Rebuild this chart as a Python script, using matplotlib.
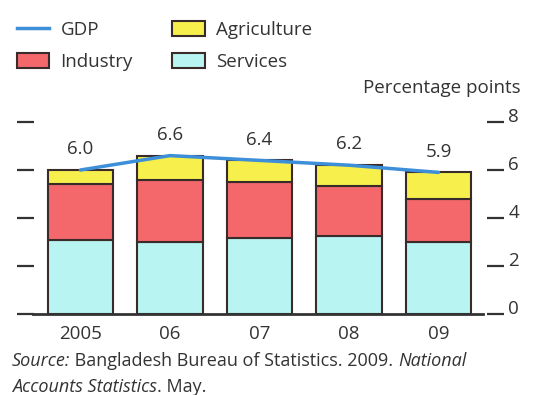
import numpy as np
import matplotlib.pyplot as plt
from matplotlib.patches import Patch
from matplotlib.lines import Line2D

plt.rcParams['font.family'] = ['Open Sans', 'DejaVu Sans']

years = ['2005', '06', '07', '08', '09']
gdp = [6.0, 6.6, 6.4, 6.2, 5.9]
services = [3.1, 3.0, 3.15, 3.25, 3.0]
industry = [2.3, 2.6, 2.35, 2.1, 1.8]
agriculture = [0.6, 1.0, 0.9, 0.85, 1.1]

c_serv = '#b8f4f2'
c_ind = '#f4686b'
c_agr = '#f6ef4c'
c_gdp = '#3c8fd8'
c_edge = '#3a2b2b'
c_text = '#333333'
fs = 13.5

fig = plt.figure(figsize=(5.58, 3.95), dpi=100)
ax = fig.add_axes([17/558, 81/395, 487/558, 192/395])

x = np.arange(len(years))
ind_bottom = np.array(services)
agr_bottom = ind_bottom + np.array(industry)
ax.bar(x, services, width=0.73, color=c_serv, edgecolor=c_edge, linewidth=1.5)
ax.bar(x, industry, width=0.73, bottom=ind_bottom, color=c_ind, edgecolor=c_edge, linewidth=1.5)
ax.bar(x, agriculture, width=0.73, bottom=agr_bottom, color=c_agr, edgecolor=c_edge, linewidth=1.5)
ax.plot(x, gdp, color=c_gdp, linewidth=2.5, zorder=5, solid_capstyle='round')

for xi, g in zip(x, gdp):
    ax.annotate('%.1f' % g, (xi, g), xytext=(0, 15), textcoords='offset points',
                ha='center', va='center', fontsize=fs, color=c_text)

ax.set_xlim(-0.709, 4.732)
ax.set_ylim(0, 8)
ax.set_yticks([0, 2, 4, 6, 8])
ax.set_xticks(x)
ax.set_xticklabels(years, fontsize=fs, color=c_text)
ax.tick_params(axis='x', length=0, pad=8)
ax.tick_params(axis='y', left=True, right=True, labelleft=False, labelright=True,
               direction='in', length=12, width=1.6, color=c_text, labelcolor=c_text,
               labelsize=fs, pad=3)
for lab in ax.get_yticklabels():
    lab.set_va('baseline')

for s in ['top', 'left', 'right']:
    ax.spines[s].set_visible(False)
ax.spines['bottom'].set_bounds(-0.53, 4.497)
ax.spines['bottom'].set_linewidth(2)
ax.spines['bottom'].set_color(c_text)

fig.text(521/558, 1 - 88/395, 'Percentage points', ha='right', va='center',
         fontsize=fs, color=c_text)

handles = [Line2D([], [], color=c_gdp, linewidth=2.5),
           Patch(facecolor=c_ind, edgecolor=c_edge, linewidth=1.5),
           Patch(facecolor=c_agr, edgecolor=c_edge, linewidth=1.5),
           Patch(facecolor=c_serv, edgecolor=c_edge, linewidth=1.5)]
labels = ['GDP', 'Industry', 'Agriculture', 'Services']
leg = fig.legend(handles, labels, ncol=2, loc='upper left',
                 bbox_to_anchor=(9/558, 1 - 13/395),
                 frameon=False, fontsize=fs, handlelength=1.75, handleheight=0.9,
                 handletextpad=0.6, columnspacing=2.1, labelspacing=0.75,
                 borderaxespad=0, labelcolor=c_text)

# source note, mixed italic / regular
fig.canvas.draw()
r = fig.canvas.get_renderer()
def chain(parts, x0, y0):
    xp = x0
    for txt, style in parts:
        t = fig.text(xp, y0, txt, fontsize=13, style=style, color=c_text, va='center')
        bb = t.get_window_extent(renderer=r)
        xp = xp + bb.width / fig.bbox.width

chain([('Source:', 'italic'), (' Bangladesh Bureau of Statistics. 2009. ', 'normal'),
       ('National', 'italic')], 12/558, 1 - 361/395)
chain([('Accounts Statistics', 'italic'), ('. May.', 'normal')], 12/558, 1 - 387/395)

fig.savefig('out.png', dpi=100)
